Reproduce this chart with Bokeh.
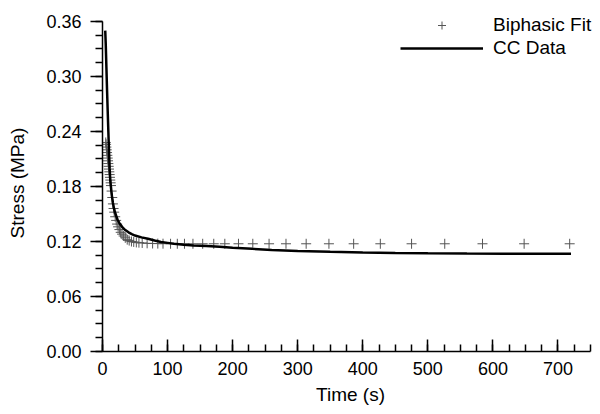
from bokeh.plotting import figure
from bokeh.models import (Range1d, FixedTicker, NumeralTickFormatter, Legend, LegendItem,
                          ColumnDataSource)
from bokeh.embed import file_html
from bokeh.resources import INLINE

# ---- data ----
fit_time = [5.0, 5.5, 6.0, 6.5, 7.0, 7.5, 8.0, 8.5, 9.0, 9.5, 10.0, 10.5, 11.0, 11.5,
            12.0, 12.5, 13.0, 14.0, 15.0, 16.0, 17.0, 18.0, 19.5, 21.0, 22.5, 24.0,
            26.0, 28.0, 30.0, 32.5, 35.0, 38.0, 41.0, 44.5, 48.0, 52.0, 56.0, 61.0,
            68.6, 77.0, 85.0, 93.0, 104.6, 115.0, 126.0, 139.0, 154.0, 171.0, 188.0,
            209.0, 231.0, 256.0, 282.0, 313.0, 348.0, 386.0, 427.0, 475.0, 526.0,
            584.0, 648.0, 718.0]
fit_stress = [0.228, 0.226, 0.223, 0.220, 0.217, 0.214, 0.211, 0.208, 0.205, 0.202,
              0.199, 0.196, 0.193, 0.190, 0.187, 0.184, 0.181, 0.175, 0.168, 0.161,
              0.156, 0.152, 0.147, 0.143, 0.139, 0.136, 0.133, 0.130, 0.128, 0.126,
              0.124, 0.122, 0.121, 0.120, 0.1195, 0.119, 0.1187, 0.1184, 0.118,
              0.1178, 0.1177, 0.1176, 0.1175, 0.1175, 0.1175, 0.1175, 0.1175, 0.1175,
              0.1175, 0.1175, 0.1175, 0.1175, 0.1175, 0.1175, 0.1175, 0.1175, 0.1175,
              0.1175, 0.1175, 0.1175, 0.1175, 0.1175]

cc_time = [4.2, 5, 6, 7, 8, 9, 10, 11, 12, 14, 16, 18, 20, 23, 26, 30, 35, 40, 45, 50,
           60, 70, 80, 90, 100, 110, 125, 140, 160, 180, 200, 230, 260, 300, 350, 400,
           450, 500, 560, 620, 680, 720]
cc_stress = [0.350, 0.335, 0.310, 0.285, 0.262, 0.240, 0.218, 0.200, 0.186, 0.172,
             0.162, 0.155, 0.150, 0.144, 0.140, 0.136, 0.1325, 0.1300, 0.1280, 0.1265,
             0.1245, 0.1230, 0.1210, 0.1195, 0.1185, 0.1175, 0.1165, 0.1157, 0.1150,
             0.1142, 0.1133, 0.1120, 0.1108, 0.1097, 0.1087, 0.1080, 0.1075, 0.1071,
             0.1068, 0.1066, 0.1065, 0.1065]

x_major = [0, 100, 200, 300, 400, 500, 600, 700]
x_minor = [25 * i for i in range(31)]
y_major = [0.0, 0.06, 0.12, 0.18, 0.24, 0.30, 0.36]
y_minor = [0.015 * i for i in range(25)]

FONT = "Liberation Sans"

# frame slightly larger than the drawn axes so the legend is never clipped;
# the axis lines are bounded to the reference's 0-750 / 0-0.36 extents
p = figure(width=600, height=414, output_backend="svg", toolbar_location=None,
           x_range=Range1d(0, 762.3), y_range=Range1d(0, 0.3676),
           min_border_left=102, min_border_right=2, min_border_top=14,
           min_border_bottom=63)
p.xgrid.visible = False
p.ygrid.visible = False
p.outline_line_color = None
p.background_fill_color = "white"
p.border_fill_color = "white"

fit_src = ColumnDataSource(dict(t=fit_time, s=fit_stress))
cc_src = ColumnDataSource(dict(t=cc_time, s=cc_stress))

r_fit = p.scatter("t", "s", source=fit_src, marker="cross", size=10,
                  line_color="#555555", line_width=1)
r_cc = p.line("t", "s", source=cc_src, line_color="black", line_width=2.5)

# axes
for ax in (p.xaxis[0], p.yaxis[0]):
    ax.axis_line_color = "black"
    ax.axis_line_width = 1.5
    ax.major_tick_line_color = "black"
    ax.major_tick_line_width = 1.5
    ax.minor_tick_line_color = "black"
    ax.minor_tick_line_width = 1.5
    ax.major_label_text_font = FONT
    ax.major_label_text_font_size = "18px"
    ax.major_label_text_color = "black"
    ax.axis_label_text_font = FONT
    ax.axis_label_text_font_size = "19px"
    ax.axis_label_text_font_style = "normal"
    ax.axis_label_text_color = "black"

xa = p.xaxis[0]
xa.ticker = FixedTicker(ticks=x_major, minor_ticks=x_minor)
xa.bounds = (0, 750)
xa.major_tick_in = 12
xa.major_tick_out = 0
xa.minor_tick_in = 7
xa.minor_tick_out = 0
xa.major_label_standoff = 10
xa.axis_label = "Time (s)"
xa.axis_label_standoff = 6

ya = p.yaxis[0]
ya.ticker = FixedTicker(ticks=y_major, minor_ticks=y_minor)
ya.formatter = NumeralTickFormatter(format="0.00")
ya.bounds = (0, 0.36)
ya.major_tick_in = 0
ya.major_tick_out = 12
ya.minor_tick_in = 0
ya.minor_tick_out = 7
ya.major_label_standoff = 9
ya.axis_label = "Stress (MPa)"
ya.axis_label_standoff = 15

legend = Legend(items=[LegendItem(label="Biphasic Fit", renderers=[r_fit]),
                       LegendItem(label="CC Data", renderers=[r_cc])],
                location=(298, 292), glyph_width=83, glyph_height=20,
                label_height=20, label_standoff=10, spacing=1, padding=0, margin=0,
                border_line_alpha=0, background_fill_alpha=0,
                label_text_font=FONT, label_text_font_size="19px",
                label_text_color="black")
p.add_layout(legend)

open("out.html", "w").write(file_html(p, INLINE))
